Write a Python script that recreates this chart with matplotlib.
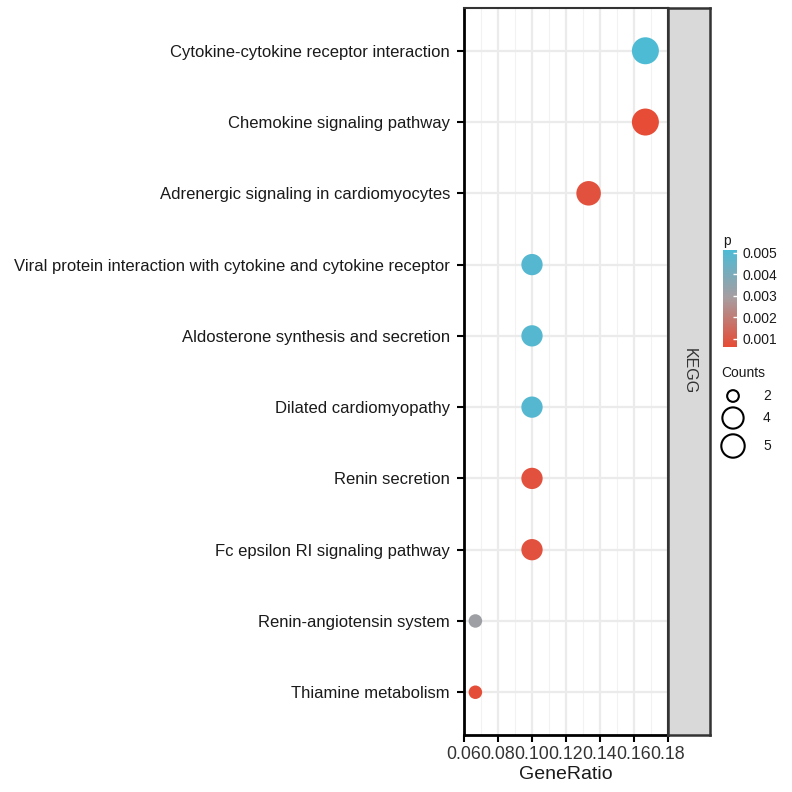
import numpy as np
import matplotlib
matplotlib.use('Agg')
import matplotlib.pyplot as plt
from matplotlib.colors import LinearSegmentedColormap, Normalize

plt.rcParams['font.family'] = ['Liberation Sans', 'DejaVu Sans']

# data (top to bottom as shown)
pathways = [
    'Cytokine-cytokine receptor interaction',
    'Chemokine signaling pathway',
    'Adrenergic signaling in cardiomyocytes',
    'Viral protein interaction with cytokine and cytokine receptor',
    'Aldosterone synthesis and secretion',
    'Dilated cardiomyopathy',
    'Renin secretion',
    'Fc epsilon RI signaling pathway',
    'Renin-angiotensin system',
    'Thiamine metabolism',
]
gene_ratio = [0.1667, 0.1667, 0.1333, 0.1, 0.1, 0.1, 0.1, 0.1, 0.0667, 0.0667]
counts = [5, 5, 4, 3, 3, 3, 3, 3, 2, 2]
pvals = [0.0051, 0.00065, 0.0008, 0.0049, 0.0049, 0.0049, 0.0008, 0.0008, 0.0031, 0.0007]
p_ticks = [0.001, 0.002, 0.003, 0.004, 0.005]
count_legend = [2, 4, 5]
x_ticks = [0.06, 0.08, 0.10, 0.12, 0.14, 0.16, 0.18]

W = H = 792
fig = plt.figure(figsize=(7.92, 7.92), dpi=100)

def box(x0, y0, x1, y1):
    return [x0 / W, 1 - y1 / H, (x1 - x0) / W, (y1 - y0) / H]

cmap = LinearSegmentedColormap.from_list('p', ['#E64B35', '#A89C9F', '#4DBBD5'])
norm = Normalize(vmin=0.00062, vmax=0.00512)

cmin, cmax = min(count_legend), max(count_legend)
def size_of(c):
    # ggplot-like area scale, range 3..6
    d_px = 27 * (3 + 3 * np.sqrt((np.asarray(c) - cmin) / (cmax - cmin))) / 6
    return (d_px * 0.72) ** 2

ax = fig.add_axes(box(464, 8, 668, 735))
n = len(pathways)
ypos = np.arange(n)[::-1] + 1
ax.scatter(gene_ratio, ypos, s=size_of(counts), c=cmap(norm(pvals)),
           edgecolors='none', zorder=3, clip_on=False)
ax.set_xlim(0.06, 0.18)
ax.set_ylim(0.4, n + 0.6)
ax.set_yticks(ypos)
ax.set_yticklabels(pathways, fontsize=12, color='#1a1a1a')
ax.set_xticks(x_ticks)
ax.set_xticklabels(['%.2f' % v for v in x_ticks], fontsize=12.8, color='#333333')
ax.set_xticks(np.arange(0.07, 0.18, 0.02), minor=True)
ax.set_xlabel('GeneRatio', fontsize=14, color='#1a1a1a', labelpad=2)
ax.grid(True, which='major', color='#EBEBEB', lw=1.6, zorder=0)
ax.grid(True, which='minor', axis='x', color='#F2F2F2', lw=0.8, zorder=0)
ax.set_axisbelow(True)
ax.tick_params(axis='y', which='major', length=5, width=1.5, color='black', pad=5)
ax.tick_params(axis='x', which='major', length=5, width=1.5, color='black', pad=3)
ax.tick_params(axis='x', which='minor', length=0)
for s in ax.spines.values():
    s.set_color('#333333')
    s.set_linewidth(1.5)
ax.spines['left'].set_color('black')
ax.spines['bottom'].set_color('black')
ax.spines['left'].set_linewidth(2)
ax.spines['bottom'].set_linewidth(2)

# facet strip
sx = fig.add_axes(box(668, 8, 710, 735))
sx.set_facecolor('#D9D9D9')
sx.set_xticks([])
sx.set_yticks([])
for s in sx.spines.values():
    s.set_color('#333333')
    s.set_linewidth(1.8)
sx.text(0.5, 0.5, 'KEGG', rotation=-90, ha='center', va='center',
        fontsize=11.5, color='#333333', transform=sx.transAxes)

# colorbar
cax = fig.add_axes(box(723, 250, 737, 347))
sm = plt.cm.ScalarMappable(norm=norm, cmap=cmap)
cb = fig.colorbar(sm, cax=cax, ticks=p_ticks)
cb.outline.set_visible(False)
cb.ax.set_yticklabels(['%.3f' % v for v in p_ticks], fontsize=10, color='#1a1a1a')
cb.ax.tick_params(length=3, color='white', width=1, direction='in', pad=4)
fig.text(723 / W, 1 - 241 / H, 'p', fontsize=10, color='#1a1a1a', ha='left', va='center')

# size legend
lax = fig.add_axes(box(718, 360, 792, 470))
lax.set_xlim(718, 792)
lax.set_ylim(470, 360)
lax.axis('off')
lax.text(721, 373, 'Counts', fontsize=10, color='#1a1a1a', va='center', ha='left')
leg_y = [396, 418, 446]
lax.scatter([733] * len(count_legend), leg_y, s=size_of(count_legend) * 0.75,
            facecolors='none', edgecolors='black', linewidths=1.5, clip_on=False)
for c, y in zip(count_legend, leg_y):
    lax.text(763, y, str(c), fontsize=10, color='#1a1a1a', va='center', ha='left')

fig.savefig('out.png', dpi=100)
